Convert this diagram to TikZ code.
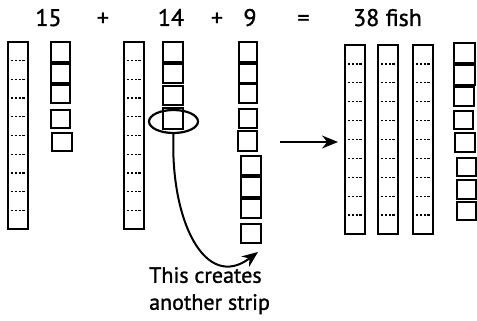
\documentclass[tikz,border=0pt]{standalone}
\usepackage{fontspec}
\setmainfont{PT Sans}[FakeBold=1.2]
\usepackage{tikz}
\usetikzlibrary{arrows.meta,shapes.geometric}

\tikzset{
  strip/.style={draw,line width=2.8pt},
  cube/.style={draw,line width=2.3pt},
  tick/.style={line width=1.3pt,dash pattern=on 2.2pt off 1.6pt},
  lbl/.style={font=\fontsize{24}{27}\selectfont,anchor=base,inner sep=0pt},
  notelbl/.style={font=\fontsize{22}{27}\selectfont,inner sep=0pt},
  link/.style={line width=2pt,-{Stealth[length=16pt,width=13pt]}},
}

\begin{document}
\begin{tikzpicture}[x=1pt,y=-1pt]
    \useasboundingbox (0,0) rectangle (477,321);

    % Sum along the top
    \node[lbl] (fifteen) at (48.5,26) {15};
    \node[lbl] (plusa) at (103,26) {+};
    \node[lbl] (fourteen) at (171,26) {14};
    \node[lbl] (plusb) at (217,26) {+};
    \node[lbl] (nine) at (250,26) {9};
    \node[lbl] (equals) at (303.5,26) {=};
    \node[lbl] (total) at (387.5,26) {38 fish};

    % Strips of ten
    \foreach \x/\t/\b in {8/42/229,124/42/229,345/45/234,378/45/234,413/45/234} {
        \draw[strip] (\x,\t) rectangle (\x+20,\b);
        \foreach \k in {1,...,9}
            \draw[tick] (\x+3,{\t+\k*(\b-\t)/10}) -- ++(14,0);
    }

    % Loose units
    \foreach \xa/\ya/\xb/\yb in {51/42/70/62,51/64/70/83,51/85/70/103,51/110/70/128,52/133/72/151,
        163/42/183/62,163/64/183/83,163/86/183/105,163/108/183/129,
        239/42/257/62,239/64/257/83,239/84/257/103,239/109/257/128,238/131/257/151,
        241/156/261/175,241/177/261/197,241/199/261/218,241/224/261/243,
        454/43/475/63,454/65/475/85,454/87/474/106,454/111/473/129,455/133/475/152,
        457/158/476/176,457/180/476/199,457/202/476/220}
        \draw[cube] (\xa,\ya) rectangle (\xb,\yb);

    % Circled unit and where it goes
    \node[ellipse,draw,line width=2.2pt,minimum width=49pt,minimum height=23pt,inner sep=0pt]
        (ring) at (173.5,121.5) {};
    \node[notelbl,anchor=north west,align=left] (note) at (149,267) {This creates\\another strip};
    \coordinate (landing) at (258,252);
    \draw[link] (ring.south) .. controls (170,220) and (205,292) .. (landing);

    % Regrouping arrow
    \coordinate (gap) at (280,142);
    \coordinate (regroup) at (338,142);
    \draw[link] (gap) -- (regroup);
\end{tikzpicture}
\end{document}
